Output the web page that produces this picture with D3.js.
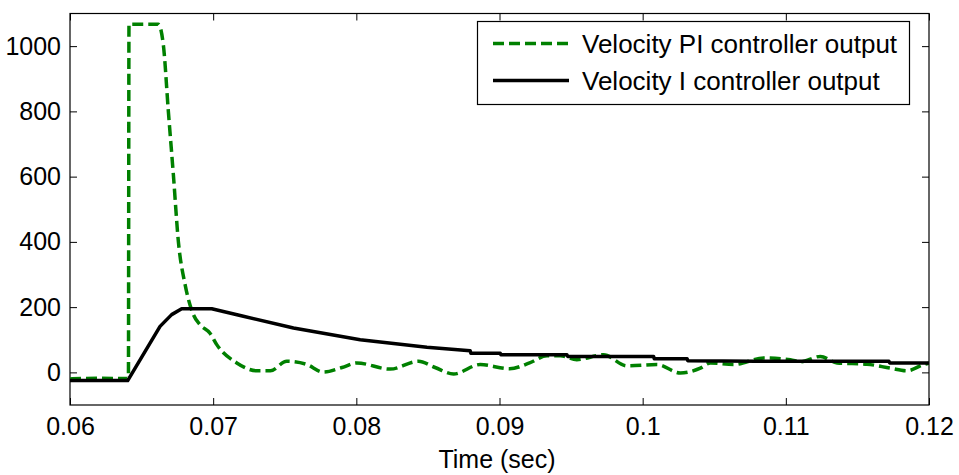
<!DOCTYPE html>
<html>
<head>
<meta charset="utf-8">
<script src="https://cdn.jsdelivr.net/npm/d3@7"></script>
<style>
  body { margin: 0; background: #fff; }
  text { font-family: "Liberation Sans", Arial, sans-serif; fill: #000; }
</style>
</head>
<body>
<div id="chart"></div>
<script>
// data
var piTime  = [0.0600, 0.0620, 0.0640, 0.06408, 0.06412, 0.06617, 0.06652, 0.06687, 0.06722, 0.06757,
               0.06804, 0.06862, 0.06908, 0.06978, 0.07025, 0.07165, 0.07305, 0.07400, 0.07514, 0.0765,
               0.0777, 0.0790, 0.08003, 0.08236, 0.08434, 0.0855, 0.08679, 0.08865, 0.0907, 0.0921,
               0.09332, 0.09424, 0.0954, 0.09727, 0.0989, 0.101, 0.10263, 0.10403, 0.10473, 0.10636,
               0.10846, 0.11032, 0.111, 0.11241, 0.11358, 0.11567, 0.1173, 0.11847, 0.11963, 0.1200];
var piValue = [-20, -18, -19, -19, 1067, 1067, 1004, 800, 606, 401,
               269, 177, 146, 120, 85, 29, 5, 5, 34, 25,
               1, 15, 29, 10, 34, 15, -5, 24, 11, 29,
               51, 51, 39, 54, 20, 24, -2, 13, 29, 24,
               44, 39, 32, 49, 29, 25, 13, 5, 24, 28];

var iTime  = [0.0600, 0.06403, 0.06629, 0.0671, 0.0678, 0.0699, 0.07211, 0.07561, 0.08027, 0.08493,
              0.08795, 0.08800, 0.09005, 0.09010, 0.09471, 0.09476, 0.10076, 0.10081, 0.1031, 0.10315,
              0.10799, 0.1172, 0.11725, 0.1200];
var iValue = [-25, -25, 141, 177, 195, 195, 172, 136, 100, 77,
              66, 59, 59, 54, 54, 49, 49, 42, 42, 36,
              34, 34, 29, 29];

var xTicks = [0.06, 0.07, 0.08, 0.09, 0.1, 0.11, 0.12];
var yTicks = [0, 200, 400, 600, 800, 1000];
var seriesNames = ["Velocity PI controller output", "Velocity I controller output"];

var W = 959, H = 475;
var margin = {top: 13.5, right: 30, bottom: 70, left: 70};
var width = W - margin.left - margin.right,
    height = H - margin.top - margin.bottom;

var svg = d3.select("#chart").append("svg")
    .attr("width", W)
    .attr("height", H);
var g = svg.append("g")
    .attr("transform", "translate(" + margin.left + "," + margin.top + ")");

var x = d3.scaleLinear().domain([0.06, 0.12]).range([0, width]);
var y = d3.scaleLinear().domain([-100, 1100]).range([height, 0]);

var fmtX = function(d) { return String(+d.toFixed(2)); };
var fmtY = d3.format("d");

// axes with ticks inside, on all four sides
var tickLen = 7;
var axB = g.append("g").attr("transform", "translate(0," + height + ")")
  .call(d3.axisBottom(x).tickValues(xTicks).tickFormat(fmtX).tickSizeInner(-tickLen).tickSizeOuter(0).tickPadding(12));
var axL = g.append("g")
  .call(d3.axisLeft(y).tickValues(yTicks).tickFormat(fmtY).tickSizeInner(-tickLen).tickSizeOuter(0).tickPadding(9));
var axT = g.append("g")
  .call(d3.axisTop(x).tickValues(xTicks).tickFormat("").tickSizeInner(-tickLen).tickSizeOuter(0));
var axR = g.append("g").attr("transform", "translate(" + width + ",0)")
  .call(d3.axisRight(y).tickValues(yTicks).tickFormat("").tickSizeInner(-tickLen).tickSizeOuter(0));

[axB, axL, axT, axR].forEach(function(a) {
  a.select(".domain").remove();
  a.selectAll("line").attr("stroke", "#000").attr("stroke-width", 1);
  a.selectAll("text").attr("font-size", 25).attr("font-family", "Liberation Sans, Arial, sans-serif").attr("fill", "#000");
});
axB.selectAll("text").attr("dy", "0.71em");

// box
g.append("rect")
  .attr("x", 0).attr("y", 0)
  .attr("width", width).attr("height", height)
  .attr("fill", "none").attr("stroke", "#000").attr("stroke-width", 1.2);

// clip
g.append("clipPath").attr("id", "clip")
  .append("rect").attr("width", width).attr("height", height);

var piData = piTime.map(function(t, i) { return [t, piValue[i]]; });
var iData = iTime.map(function(t, i) { return [t, iValue[i]]; });

var line = d3.line()
  .x(function(d) { return x(d[0]); })
  .y(function(d) { return y(d[1]); });

g.append("path")
  .datum(piData)
  .attr("clip-path", "url(#clip)")
  .attr("fill", "none")
  .attr("stroke", "#008000")
  .attr("stroke-width", 3.5)
  .attr("stroke-dasharray", "11,5")
  .attr("stroke-linejoin", "round")
  .attr("d", line.curve(d3.curveMonotoneX));

g.append("path")
  .datum(iData)
  .attr("clip-path", "url(#clip)")
  .attr("fill", "none")
  .attr("stroke", "#000")
  .attr("stroke-width", 3.5)
  .attr("stroke-linejoin", "round")
  .attr("d", line.curve(d3.curveLinear));

// x label
svg.append("text")
  .attr("x", 497).attr("y", 468)
  .attr("text-anchor", "middle")
  .attr("font-size", 25)
  .text("Time (sec)");

// legend
var lg = svg.append("g");
lg.append("rect")
  .attr("x", 477.5).attr("y", 21.5)
  .attr("width", 432).attr("height", 83)
  .attr("fill", "#fff").attr("stroke", "#000").attr("stroke-width", 1.2);
var legStyle = [
  {color: "#008000", dash: "11,5"},
  {color: "#000", dash: null}
];
seriesNames.forEach(function(name, i) {
  var yy = 43.5 + i * 37;
  lg.append("line")
    .attr("x1", 493).attr("x2", 569)
    .attr("y1", yy).attr("y2", yy)
    .attr("stroke", legStyle[i].color)
    .attr("stroke-width", 3.5)
    .attr("stroke-dasharray", legStyle[i].dash);
  lg.append("text")
    .attr("x", 582).attr("y", yy + 9.5)
    .attr("font-size", 26)
    .text(name);
});
</script>
</body>
</html>
